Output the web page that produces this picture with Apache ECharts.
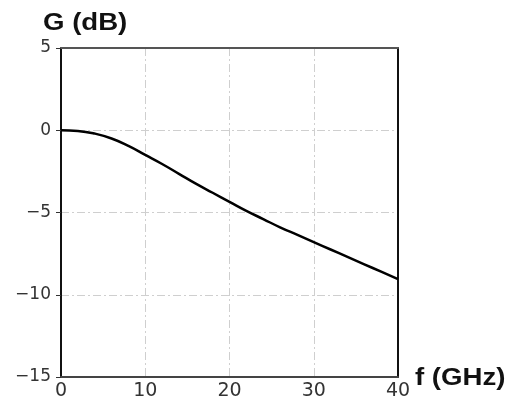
<!DOCTYPE html>
<html>
<head>
<meta charset="utf-8">
<script src="https://cdn.jsdelivr.net/npm/echarts@6/dist/echarts.min.js"></script>
<style>html,body{margin:0;padding:0;background:#fff;}#c{width:508px;height:401px;}</style>
</head>
<body>
<div id="c"></div>
<script>
var freqGHz = [0, 2, 4, 6, 8, 10, 12, 14, 16, 18, 20, 22, 24, 26, 28, 30, 32, 34, 36, 38, 40];
var gainDB = [0, -0.04, -0.2, -0.5, -0.95, -1.5, -2.05, -2.65, -3.25, -3.8, -4.35, -4.9, -5.4, -5.9, -6.35, -6.8, -7.25, -7.7, -8.15, -8.6, -9.05];
var xTicks = [0, 10, 20, 30, 40];
var yTicks = [-15, -10, -5, 0, 5];
var yTitle = 'G (dB)';
var xTitle = 'f (GHz)';

var chart = echarts.init(document.getElementById('c'));
var points = freqGHz.map(function (f, i) { return [f, gainDB[i]]; });
var gridLine = { show: true, lineStyle: { color: '#cfcfcf', width: 1, type: [8, 3, 2, 3] } };
var labFmt = function (v) { return String(v).replace('-', '\u2212'); };

chart.setOption({
  animation: false,
  grid: { left: 61, right: 110, top: 48, bottom: 23, containLabel: false },
  xAxis: [{
    type: 'value', min: xTicks[0], max: xTicks[xTicks.length - 1], interval: 10,
    position: 'bottom',
    axisLine: { show: true, onZero: false, lineStyle: { color: '#444', width: 2 } },
    axisTick: { show: false },
    axisLabel: { color: '#333', fontSize: 19, fontFamily: 'DejaVu Sans', margin: 5, formatter: labFmt },
    splitLine: gridLine
  }, {
    type: 'value', min: 0, max: 40, interval: 10, position: 'top',
    axisLine: { show: true, onZero: false, lineStyle: { color: '#555', width: 2 } },
    axisTick: { show: false }, axisLabel: { show: false }, splitLine: { show: false }
  }],
  yAxis: [{
    type: 'value', min: yTicks[0], max: yTicks[yTicks.length - 1], interval: 5,
    position: 'left',
    axisLine: { show: true, onZero: false, lineStyle: { color: '#111', width: 2 } },
    axisTick: { show: true, length: 5, lineStyle: { color: '#333', width: 1 } },
    axisLabel: { color: '#333', fontSize: 17, fontFamily: 'DejaVu Sans', margin: 10, formatter: labFmt },
    splitLine: gridLine
  }, {
    type: 'value', min: -15, max: 5, interval: 5, position: 'right',
    axisLine: { show: true, onZero: false, lineStyle: { color: '#111', width: 2 } },
    axisTick: { show: false }, axisLabel: { show: false }, splitLine: { show: false }
  }],
  graphic: [
    { type: 'text', left: 43, top: 11, scaleX: 1.15, style: { text: yTitle, font: 'bold 24px "Liberation Sans"', fill: '#111' } },
    { type: 'text', left: 415, top: 366, scaleX: 1.15, style: { text: xTitle, font: 'bold 24px "Liberation Sans"', fill: '#111' } }
  ],
  series: [{
    type: 'line', data: points, smooth: true, showSymbol: false,
    lineStyle: { color: '#000', width: 2.5 }
  }]
});
</script>
</body>
</html>
